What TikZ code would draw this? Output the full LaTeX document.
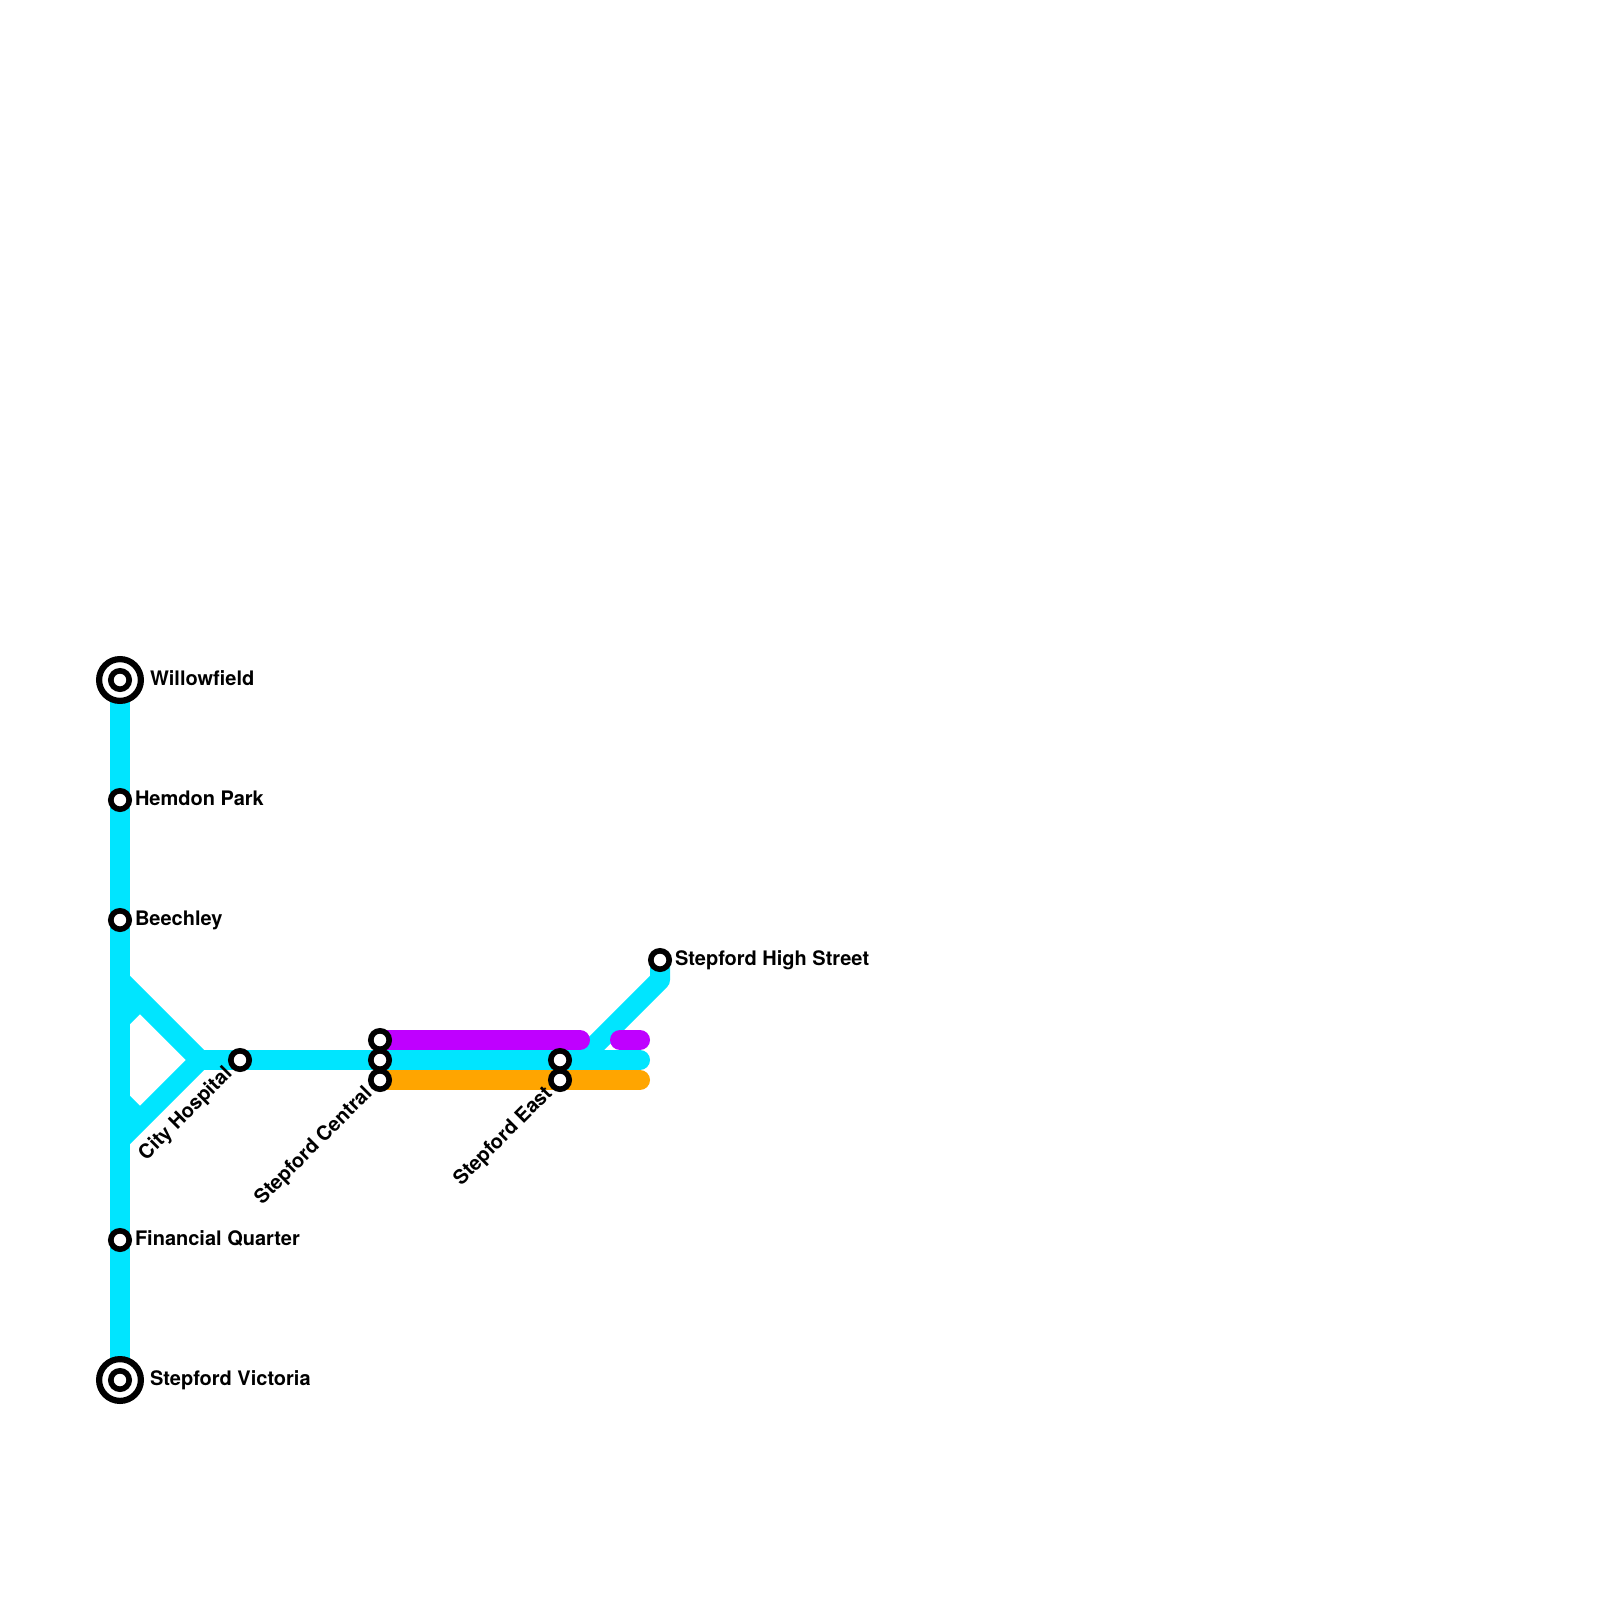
\documentclass[tikz,border=0pt]{standalone}
\usepackage{fontspec}
\setmainfont{TeX Gyre Heros}
\definecolor{lineblue}{HTML}{00E5FF}
\definecolor{linepurple}{HTML}{BF00FF}
\definecolor{lineorange}{HTML}{FFA500}
\tikzset{
  route/.style={line width=20pt,line cap=round,line join=round},
  stub/.style={line width=20pt,line cap=butt,line join=round},
  halt/.style={circle,draw=black,fill=white,line width=5.6pt,minimum size=18.4pt,inner sep=0pt,outer sep=0pt},
  terminus/.style={circle,draw=black,fill=white,line width=6.2pt,minimum size=41.8pt,inner sep=0pt,outer sep=0pt},
  lbl/.style={font=\bfseries\fontsize{20pt}{22pt}\selectfont,text=black,inner sep=0pt,outer sep=0pt},
  lblr/.style={lbl,anchor=base west},
  lbld/.style={lbl,anchor=base east,rotate=45}
}
\begin{document}
\begin{tikzpicture}[x=1pt,y=-1pt]
\useasboundingbox (0,0) rectangle (1600,1600);
\fill[white] (0,0) rectangle (1600,1600);
% junction points
\coordinate (top) at (120,680);
\coordinate (bot) at (120,1380);
\coordinate (d1) at (120,980);
\coordinate (d2) at (120,1140);
\coordinate (hub) at (200,1060);
\coordinate (s1a) at (120,1020);
\coordinate (s1b) at (140,1000);
\coordinate (s2a) at (120,1100);
\coordinate (s2b) at (140,1120);
\coordinate (cyanend) at (640,1060);
\coordinate (bend) at (660,980);
\coordinate (hs) at (660,960);
\coordinate (bendb) at (580,1060);
\coordinate (p1a) at (380,1040);
\coordinate (p1b) at (580,1040);
\coordinate (p2a) at (620,1040);
\coordinate (p2b) at (640,1040);
\coordinate (o1a) at (380,1080);
\coordinate (o1b) at (640,1080);
% cyan line
\draw[stub,lineblue] (top) -- (bot);
\draw[stub,lineblue] (d1) -- (hub) -- (d2);
\draw[stub,lineblue] (s1a) -- (s1b);
\draw[stub,lineblue] (s2a) -- (s2b);
\draw[route,lineblue] (hub) -- (cyanend);
\draw[route,lineblue] (hs) -- (bend) -- (bendb);
% purple line
\draw[route,linepurple] (p1a) -- (p1b);
\draw[route,linepurple] (p2a) -- (p2b);
% orange line
\draw[route,lineorange] (o1a) -- (o1b);
% stations
\node[terminus] (willowO) at (top) {};
\node[halt] (willow) at (top) {};
\node[terminus] (victoriaO) at (bot) {};
\node[halt] (victoria) at (bot) {};
\node[halt] (hemdon) at (120,800) {};
\node[halt] (beechley) at (120,920) {};
\node[halt] (financial) at (120,1240) {};
\node[halt] (city) at (240,1060) {};
\node[halt] (centralA) at (380,1040) {};
\node[halt] (centralB) at (380,1060) {};
\node[halt] (centralC) at (380,1080) {};
\node[halt] (eastA) at (560,1060) {};
\node[halt] (eastB) at (560,1080) {};
\node[halt] (high) at (hs) {};
% labels
\node[lblr] (lw) at (150,685) {Willowfield};
\node[lblr] (lh) at (135,805) {Hemdon Park};
\node[lblr] (lb) at (135,925) {Beechley};
\node[lblr] (lf) at (135,1245) {Financial Quarter};
\node[lblr] (lv) at (150,1385) {Stepford Victoria};
\node[lblr] (ls) at (675,965) {Stepford High Street};
\node[lbld] (lc) at (233,1074.5) {City Hospital};
\node[lbld] (lsc) at (373,1094.5) {Stepford Central};
\node[lbld] (lse) at (553,1094.5) {Stepford East};
\end{tikzpicture}
\end{document}
